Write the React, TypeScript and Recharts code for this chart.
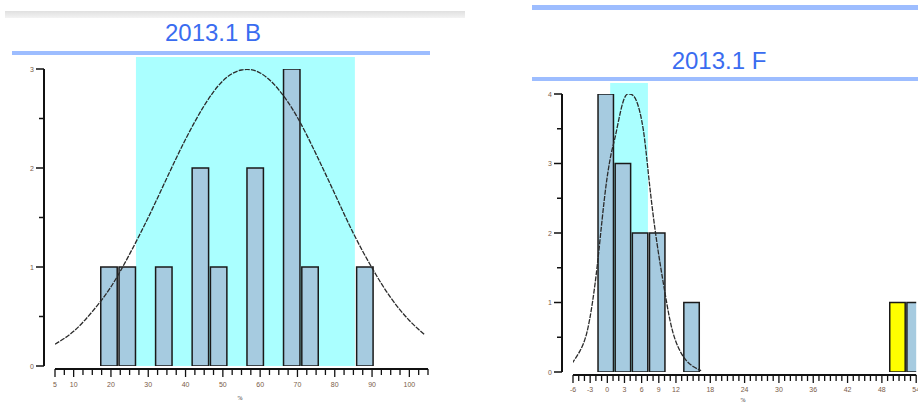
import React from 'react';
import { ComposedChart, Bar, Line, XAxis, YAxis, ReferenceArea, ReferenceLine, Cell } from 'recharts';

// ---- 2013.1 B ----
const bBinStarts = [17, 21.9, 26.8, 31.7, 36.6, 41.5, 46.4, 51.3, 56.2, 61.1, 66, 70.9, 75.8, 80.7, 85.6];
const bCounts = [1, 1, 0, 1, 0, 2, 1, 0, 2, 0, 3, 1, 0, 0, 1];
const bBinWidth = 4.9;
const bCurveX = [5, 10, 15, 20, 25, 30, 35, 40, 45, 50, 55, 60, 65, 70, 75, 80, 85, 90, 95, 100, 104];
const bCurveY = [0.22, 0.35, 0.55, 0.8, 1.13, 1.5, 1.9, 2.29, 2.63, 2.88, 2.99, 2.96, 2.79, 2.51, 2.14, 1.74, 1.34, 0.99, 0.69, 0.46, 0.32];
const bBand = [26.7, 85.4];
const bBandTop = 3.12;
const bXLabels = [5, 10, 20, 30, 40, 50, 60, 70, 80, 90, 100];
const bYLabels = [0, 1, 2, 3];

// ---- 2013.1 F ----
const fBinStarts = [-1.8, 1.2, 4.2, 7.2, 10.2, 13.2, 16.2, 19.2, 22.2, 25.2, 28.2, 31.2, 34.2, 37.2, 40.2, 43.2, 46.2, 49.2, 52.2];
const fCounts = [4, 3, 2, 2, 0, 1, 0, 0, 0, 0, 0, 0, 0, 0, 0, 0, 0, 1, 1];
const fHighlightBin = 49.2;
const fBinWidth = 3;
const fCurveX = [-6.2, -4.8, -3.6, -2.6, -1.75, -0.9, -0.1, 0.7, 1.5, 2.8, 4.0, 5.1, 6.3, 7.3, 8.6, 10.1, 11.5, 13.3, 15, 16.4];
const fCurveY = [0.12, 0.3, 0.56, 1.0, 1.54, 2.2, 2.76, 3.15, 3.43, 3.9, 4.0, 3.9, 3.48, 2.76, 1.9, 1.13, 0.56, 0.22, 0.08, 0.02];
const fBand = [0.5, 7.1];
const fBandTop = 4.16;
const fXLabels = [-6, -3, 0, 3, 6, 9, 12, 18, 24, 30, 36, 42, 48, 54];
const fYLabels = [0, 1, 2, 3, 4];

const FONT = '"Liberation Sans", Arial, sans-serif';
const TICK_COLOR = '#7a5c48';
const BAR_FILL = '#a6cbe0';
const BAND_FILL = '#aaffff';
const TITLE_COLOR = '#3a6cf0';
const RULE_COLOR = '#9dbdff';

const bBars = bBinStarts.map((s, i) => ({ x: s + bBinWidth / 2, n: bCounts[i] }));
const bCurve = bCurveX.map((x, i) => ({ x, y: bCurveY[i] }));
const fBars = fBinStarts.map((s, i) => ({ x: s + fBinWidth / 2, n: fCounts[i], hi: s === fHighlightBin }));
const fCurve = fCurveX.map((x, i) => ({ x, y: fCurveY[i] }));

const range = (from: number, to: number, step: number) =>
  Array.from({ length: Math.round((to - from) / step) + 1 }, (_, i) => from + i * step);

const XTick = ({ x, y, payload, labels, dy }: any) => {
  const major = labels.includes(payload.value);
  return (
    <g>
      <line x1={x} x2={x} y1={y + 3} y2={y + (major ? 11 : 9)} stroke="#111" strokeWidth={1.3} />
      {major && (
        <text x={x} y={y + dy} textAnchor="middle" fontSize={7} fill={TICK_COLOR} fontFamily={FONT}>
          {payload.value}
        </text>
      )}
    </g>
  );
};

const YTick = ({ x, y, payload, labels }: any) => {
  const major = labels.includes(payload.value);
  return (
    <g>
      <line x1={x - (major ? 8 : 5)} x2={x} y1={y} y2={y} stroke="#111" strokeWidth={1.5} />
      {major && (
        <text x={x - 10} y={y + 2.5} textAnchor="end" fontSize={7} fill={TICK_COLOR} fontFamily={FONT}>
          {payload.value}
        </text>
      )}
    </g>
  );
};

const AxisBase = (props: any) => (
  <line x1={props.x1} x2={props.x2} y1={props.y1 + 3} y2={props.y2 + 3} stroke="#111" strokeWidth={2} />
);

const Title = ({ text, cx, cy }: { text: string; cx: number; cy: number }) => (
  <div
    style={{
      position: 'absolute', left: cx - 80, top: cy - 14, width: 160, height: 28, lineHeight: '28px',
      textAlign: 'center', fontFamily: FONT, fontSize: 24, color: TITLE_COLOR,
    }}
  >
    {text}
  </div>
);

const Rule = ({ x1, x2, y, h }: { x1: number; x2: number; y: number; h: number }) => (
  <div style={{ position: 'absolute', left: x1, top: y, width: x2 - x1, height: h, background: RULE_COLOR }} />
);

const PAD = 11;
const Y_W = 30;
const bM = { top: 69, right: 12, bottom: 4, left: 14 };
const B_W = 440;
const B_XH = 34;
const bPx = (B_W - bM.left - bM.right - Y_W - PAD) / 100;
const fM = { top: 94, right: 3.8, bottom: 2, left: 12 };
const F_W = 400;
const F_XH = 30;
const fPx = (F_W - fM.left - fM.right - Y_W - PAD) / 60;

// Fitted curve drawn in its own chart with the same geometry, so that its
// x values do not shrink the bar band of the histogram.
const CurveOverlay = ({ data, width, margin, xDomain, yDomain, xH }: any) => (
  <ComposedChart width={width} height={404} data={data} margin={margin}>
    <XAxis type="number" dataKey="x" domain={xDomain} allowDataOverflow padding={{ left: PAD, right: 0 }}
      height={xH} tick={false} axisLine={false} tickLine={false} />
    <YAxis type="number" domain={yDomain} allowDataOverflow width={Y_W} tick={false} axisLine={false} tickLine={false} />
    <Line dataKey="y" type="natural" stroke="#2b2b2b" strokeWidth={1.3} strokeDasharray="5 1.2" dot={false} activeDot={false} isAnimationActive={false} />
  </ComposedChart>
);

export default function App() {
  return (
    <div style={{ position: 'fixed', left: 0, top: 0, width: 918, height: 404, overflow: 'hidden', background: '#fff' }}>
      <div style={{ position: 'absolute', left: 5, top: 11, width: 460, height: 7, background: 'linear-gradient(#e0e0e0, #f3f3f3)' }} />
      <Title text="2013.1 B" cx={213} cy={33} />
      <Rule x1={12} x2={430} y={51} h={4} />
      <Rule x1={532} x2={918} y={5} h={5} />
      <Title text="2013.1 F" cx={719} cy={61} />
      <Rule x1={532} x2={918} y={77} h={4} />

      <div style={{ position: 'absolute', left: 0, top: 0 }}>
        <ComposedChart width={B_W} height={404} data={bBars} margin={bM}>
          <ReferenceArea x1={bBand[0]} x2={bBand[1]} y1={0} y2={bBandTop} fill={BAND_FILL} fillOpacity={1} stroke="none" ifOverflow="visible" />
          <XAxis
            type="number" dataKey="x" domain={[5, 105]} allowDataOverflow
            ticks={range(5, 105, 2.5)} interval={0} padding={{ left: PAD, right: 0 }}
            axisLine={false} tickLine={false} tickSize={0} tickMargin={0} height={B_XH}
            tick={(p: any) => <XTick {...p} labels={bXLabels} dy={21} />}
            label={{ value: '%', position: 'insideBottom', offset: 0, fontSize: 6, fill: '#333', dx: 4 }}
          />
          <YAxis
            type="number" domain={[0, 3]} allowDataOverflow width={Y_W}
            ticks={range(0, 3, 0.5)} interval={0} tickLine={false} tickSize={0} tickMargin={0}
            axisLine={{ stroke: '#111', strokeWidth: 2 }}
            tick={(p: any) => <YTick {...p} labels={bYLabels} />}
          />
          <Bar dataKey="n" barSize={bBinWidth * bPx} fill={BAR_FILL} stroke="#1a1a1a" strokeWidth={1.5} isAnimationActive={false} />
          <ReferenceLine segment={[{ x: 5, y: 0 }, { x: 105, y: 0 }]} shape={AxisBase} ifOverflow="visible" />
        </ComposedChart>
      </div>
      <div style={{ position: 'absolute', left: 0, top: 0 }}>
        <CurveOverlay data={bCurve} width={B_W} margin={bM} xDomain={[5, 105]} yDomain={[0, 3]} xH={B_XH} />
      </div>

      <div style={{ position: 'absolute', left: 520, top: 0 }}>
        <ComposedChart width={F_W} height={404} data={fBars} margin={fM}>
          <ReferenceArea x1={fBand[0]} x2={fBand[1]} y1={0} y2={fBandTop} fill={BAND_FILL} fillOpacity={1} stroke="none" ifOverflow="visible" />
          <XAxis
            type="number" dataKey="x" domain={[-6, 54]} allowDataOverflow
            ticks={range(-6, 54, 1)} interval={0} padding={{ left: PAD, right: 0 }}
            axisLine={false} tickLine={false} tickSize={0} tickMargin={0} height={F_XH}
            tick={(p: any) => <XTick {...p} labels={fXLabels} dy={19.5} />}
            label={{ value: '%', position: 'insideBottom', offset: 0, fontSize: 6, fill: '#333', dx: 4 }}
          />
          <YAxis
            type="number" domain={[0, 4]} allowDataOverflow width={Y_W}
            ticks={range(0, 4, 0.5)} interval={0} tickLine={false} tickSize={0} tickMargin={0}
            axisLine={{ stroke: '#111', strokeWidth: 2 }}
            tick={(p: any) => <YTick {...p} labels={fYLabels} />}
          />
          <Bar dataKey="n" barSize={fBinWidth * fPx} fill={BAR_FILL} stroke="#1a1a1a" strokeWidth={1.5} isAnimationActive={false}>
            {fBars.map((d, i) => (
              <Cell key={i} fill={d.hi ? '#ffff00' : BAR_FILL} />
            ))}
          </Bar>
          <ReferenceLine segment={[{ x: -6, y: 0 }, { x: 54, y: 0 }]} shape={AxisBase} ifOverflow="visible" />
        </ComposedChart>
      </div>
      <div style={{ position: 'absolute', left: 520, top: 0 }}>
        <CurveOverlay data={fCurve} width={F_W} margin={fM} xDomain={[-6, 54]} yDomain={[0, 4]} xH={F_XH} />
      </div>
    </div>
  );
}
